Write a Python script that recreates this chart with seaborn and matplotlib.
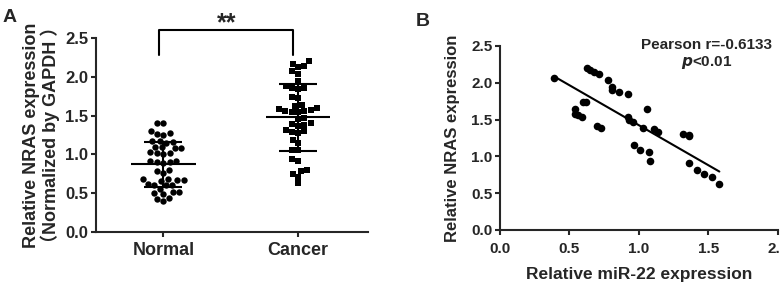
import numpy as np
import pandas as pd
import matplotlib
matplotlib.use("Agg")
import matplotlib.pyplot as plt
import seaborn as sns

# ---- data ----
groups = ["Normal", "Cancer"]

normal = [1.41, 1.40,
          1.30, 1.27, 1.25, 1.26,
          1.17, 1.16, 1.15, 1.17,
          1.09, 1.08, 1.10, 1.08,
          1.02, 1.03, 1.01, 1.02,
          0.92, 0.90, 0.89, 0.91, 0.90,
          0.80, 0.79, 0.76,
          0.68, 0.67, 0.66, 0.67, 0.68,
          0.61, 0.60, 0.61, 0.62,
          0.56,
          0.50, 0.49, 0.51, 0.52,
          0.44, 0.40, 0.43]

cancer = [2.20, 2.17, 2.14, 2.13, 2.07, 2.04,
          1.94, 1.88, 1.86, 1.86, 1.84,
          1.74, 1.73,
          1.63, 1.62, 1.60,
          1.56, 1.55, 1.55, 1.56, 1.57, 1.58,
          1.47, 1.46,
          1.40, 1.39, 1.38, 1.37,
          1.31, 1.30, 1.29, 1.28,
          1.19, 1.15,
          1.06, 1.05,
          0.94, 0.92,
          0.80, 0.78, 0.75, 0.71,
          0.63]

mir22 = [0.39, 0.63, 0.65, 0.675, 0.71, 0.78, 0.81, 0.81, 0.855, 0.92,
         0.54, 0.54, 0.56, 0.59, 0.60, 0.62, 0.70, 0.73,
         0.92, 0.93, 0.96, 1.06, 1.03, 1.11, 1.14,
         0.965, 1.01, 1.07, 1.08,
         1.32, 1.365, 1.365, 1.365,
         1.42, 1.47, 1.53, 1.58]
nras = [2.06, 2.20, 2.17, 2.14, 2.12, 2.04, 1.94, 1.90, 1.88, 1.84,
        1.64, 1.58, 1.56, 1.54, 1.74, 1.74, 1.41, 1.39,
        1.54, 1.50, 1.46, 1.64, 1.39, 1.37, 1.33,
        1.15, 1.09, 1.06, 0.94,
        1.30, 1.29, 1.27, 0.91,
        0.81, 0.76, 0.72, 0.63]

ticks_y = [0, 0.5, 1.0, 1.5, 2.0, 2.5]
ticks_x = [0, 0.5, 1.0, 1.5, 2.0]

df_a = pd.DataFrame({"group": ["Normal"] * len(normal) + ["Cancer"] * len(cancer),
                     "value": normal + cancer})
df_b = pd.DataFrame({"mir22": mir22, "nras": nras})

# ---- style ----
sns.set_style("ticks")
plt.rcParams["font.family"] = ["Liberation Sans", "Noto Sans CJK SC", "DejaVu Sans"]
plt.rcParams["font.weight"] = "bold"
plt.rcParams["axes.linewidth"] = 1.5
plt.rcParams["xtick.major.width"] = 1.5
plt.rcParams["ytick.major.width"] = 1.5
plt.rcParams["xtick.major.size"] = 3.5
plt.rcParams["ytick.major.size"] = 3.5
plt.rcParams["xtick.major.pad"] = 3
plt.rcParams["ytick.major.pad"] = 2

fig = plt.figure(figsize=(7.8, 2.85), dpi=100)

# ==========================================
# Panel A - scatter dot plot
# ==========================================
ax = fig.add_axes([0.123, 0.186, 0.349, 0.681])

sns.swarmplot(data=df_a[df_a.group == "Normal"], x="group", y="value", order=groups,
              marker="o", color="black", size=4.6, ax=ax)
sns.swarmplot(data=df_a[df_a.group == "Cancer"], x="group", y="value", order=groups,
              marker="s", color="black", size=4.4, ax=ax)

# mean +/- SD
for i, vals in enumerate([normal, cancer]):
    m = np.mean(vals)
    sd = np.std(vals, ddof=1)
    ax.hlines(m, i - 0.24, i + 0.24, color="black", lw=1.5, zorder=5)
    ax.hlines([m - sd, m + sd], i - 0.14, i + 0.14, color="black", lw=1.5, zorder=5)
    ax.vlines(i, m - sd, m + sd, color="black", lw=1.5, zorder=5)

ax.set_xlim(-0.5, 1.52)
ax.set_ylim(0, 2.5)
ax.set_yticks(ticks_y)
ax.set_yticklabels([f"{t:.1f}" for t in ticks_y], fontsize=12, fontweight="bold")
ax.set_xticks([0, 1])
ax.set_xticklabels(groups, fontsize=13, fontweight="bold")
ax.tick_params(axis="x", pad=4)
ax.set_xlabel("")
ax.set_ylabel("Relative NRAS expression\n（Normalized by GAPDH ）", fontsize=13,
              fontweight="bold", linespacing=1.0, labelpad=4)
sns.despine(ax=ax)

# significance bracket
ax.plot([-0.03, -0.03, 0.96, 0.96], [2.28, 2.6, 2.6, 2.28], color="black", lw=1.5,
        clip_on=False)
ax.text(0.47, 2.53, "**", ha="center", va="bottom", fontsize=18, fontweight="bold")

fig.text(0.003, 0.97, "A", fontsize=14, fontweight="bold", va="top")

# ==========================================
# Panel B - correlation
# ==========================================
bx = fig.add_axes([0.641, 0.193, 0.356, 0.646])
sns.regplot(data=df_b, x="mir22", y="nras", ci=None, color="black",
            scatter_kws={"s": 30, "alpha": 1, "linewidths": 0},
            line_kws={"lw": 1.5}, ax=bx)
bx.set_xlim(0, 2.0)
bx.set_ylim(0, 2.5)
bx.set_xticks(ticks_x)
bx.set_xticklabels([f"{t:.1f}" for t in ticks_x], fontsize=11, fontweight="bold")
bx.set_yticks(ticks_y)
bx.set_yticklabels([f"{t:.1f}" for t in ticks_y], fontsize=11, fontweight="bold")
bx.tick_params(axis="x", pad=5)
bx.set_xlabel("Relative miR-22 expression", fontsize=12.5, fontweight="bold", labelpad=8)
bx.set_ylabel("Relative NRAS expression", fontsize=12, fontweight="bold", labelpad=8)
sns.despine(ax=bx)

bx.text(1.49, 2.51, "Pearson r=-0.6133", ha="center", va="center", fontsize=11,
        fontweight="bold")
bx.text(1.49, 2.27, r"$\bf{\it{p}}$<0.01", ha="center", va="center", fontsize=11,
        fontweight="bold")

fig.text(0.533, 0.955, "B", fontsize=14, fontweight="bold", va="top")

fig.savefig("out.png", dpi=100)
